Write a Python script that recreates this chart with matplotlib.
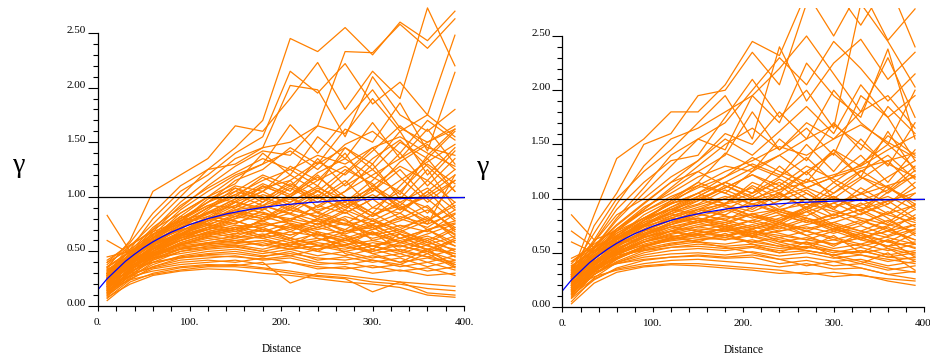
import matplotlib
matplotlib.use('Agg')
import matplotlib.pyplot as plt
from matplotlib.ticker import MultipleLocator, FixedLocator

# lag distances of the simulated variograms
lags = [10, 35, 60, 90, 120, 150, 180, 210, 240, 270, 300, 330, 360, 390]

# fitted exponential model
model_h = [0, 5, 10, 15, 20, 30, 40, 50, 60, 70, 80, 100, 120, 140, 160, 180,
           200, 230, 260, 300, 350, 400]
model_gamma = [0.15, 0.20, 0.25, 0.29, 0.33, 0.41, 0.475, 0.535, 0.588, 0.634,
               0.676, 0.745, 0.80, 0.843, 0.876, 0.903, 0.924, 0.947, 0.963,
               0.977, 0.988, 0.993]

sill = 1.0

xticks = [0, 100, 200, 300, 400]
xtick_labels = ['0.', '100.', '200.', '300.', '400.']
yticks = [0.0, 0.5, 1.0, 1.5, 2.0, 2.5]
ytick_labels = ['0.00', '0.50', '1.00', '1.50', '2.00', '2.50']

left_gamma = [
    [0.30, 0.55, 0.75, 1.00, 1.25, 1.45, 1.70, 2.45, 2.33, 2.55, 2.30, 2.60, 2.43, 2.70],
    [0.28, 0.52, 0.80, 1.05, 1.20, 1.40, 1.55, 2.15, 1.95, 2.22, 1.85, 2.05, 1.75, 2.48],
    [0.35, 0.60, 1.05, 1.20, 1.35, 1.65, 1.60, 1.90, 2.23, 1.80, 2.15, 1.90, 2.73, 2.20],
    [0.25, 0.48, 0.70, 0.95, 1.15, 1.35, 1.45, 2.02, 1.98, 1.55, 2.10, 1.75, 1.60, 1.80],
    [0.32, 0.50, 0.72, 0.90, 1.10, 1.28, 1.42, 1.38, 1.65, 2.33, 2.32, 2.58, 2.36, 2.63],
    [0.22, 0.45, 0.65, 0.88, 1.05, 1.20, 1.30, 1.66, 1.40, 1.70, 1.98, 1.63, 1.50, 1.65],
    [0.40, 0.58, 0.85, 1.10, 1.25, 1.30, 1.45, 1.50, 1.65, 1.58, 1.90, 1.60, 1.75, 1.55],
    [0.20, 0.40, 0.60, 0.80, 0.95, 1.15, 1.25, 1.45, 1.30, 1.62, 1.50, 1.86, 1.42, 2.14],
    [0.83, 0.50, 0.62, 0.85, 1.00, 1.12, 1.40, 1.20, 1.55, 1.35, 1.68, 1.35, 1.62, 1.30],
    [0.27, 0.46, 0.68, 0.92, 1.08, 1.22, 1.35, 1.25, 1.10, 1.45, 1.30, 1.60, 1.20, 1.45],
    [0.30, 0.44, 0.60, 0.78, 0.95, 1.10, 1.05, 1.28, 1.15, 1.40, 1.05, 1.32, 1.48, 1.25],
    [0.18, 0.38, 0.55, 0.75, 0.90, 1.00, 1.18, 1.05, 1.35, 1.10, 1.25, 1.02, 1.38, 1.62],
    [0.24, 0.42, 0.58, 0.70, 0.88, 1.05, 0.98, 1.12, 1.00, 1.22, 1.45, 1.18, 0.95, 1.15],
    [0.60, 0.48, 0.62, 0.80, 0.92, 0.90, 1.10, 1.00, 1.20, 0.95, 1.15, 1.40, 1.10, 1.35],
    [0.26, 0.40, 0.55, 0.72, 0.85, 0.98, 1.08, 1.15, 0.90, 1.05, 1.30, 0.98, 1.25, 0.90],
    [0.15, 0.35, 0.52, 0.68, 0.80, 0.95, 0.88, 1.02, 1.18, 1.00, 0.85, 1.10, 1.35, 1.05],
    [0.33, 0.47, 0.63, 0.77, 0.98, 1.08, 1.00, 0.90, 1.05, 1.25, 1.12, 0.88, 1.02, 1.20],
    [0.21, 0.39, 0.54, 0.66, 0.78, 0.90, 1.02, 0.95, 1.10, 0.92, 1.05, 1.25, 0.98, 0.78],
    [0.29, 0.43, 0.57, 0.74, 0.86, 0.82, 0.95, 1.10, 0.98, 1.15, 0.90, 1.05, 0.85, 1.10],
    [0.12, 0.32, 0.50, 0.65, 0.76, 0.88, 0.92, 0.85, 1.00, 0.88, 1.08, 0.92, 1.15, 0.95],
    [0.25, 0.41, 0.58, 0.70, 0.75, 0.82, 0.90, 0.98, 0.88, 0.95, 0.82, 1.00, 0.90, 0.70],
    [0.19, 0.37, 0.53, 0.64, 0.72, 0.80, 0.86, 0.78, 0.92, 0.85, 0.98, 0.80, 0.72, 0.88],
    [0.36, 0.49, 0.60, 0.69, 0.78, 0.85, 0.80, 0.88, 0.82, 0.75, 0.90, 0.85, 1.05, 0.80],
    [0.23, 0.40, 0.50, 0.62, 0.70, 0.76, 0.84, 0.80, 0.75, 0.88, 0.78, 0.70, 0.82, 0.62],
    [0.31, 0.45, 0.56, 0.66, 0.74, 0.70, 0.78, 0.85, 0.78, 0.70, 0.84, 0.92, 0.75, 0.85],
    [0.17, 0.33, 0.48, 0.60, 0.68, 0.74, 0.72, 0.80, 0.86, 0.78, 0.70, 0.78, 0.88, 0.72],
    [0.28, 0.42, 0.52, 0.63, 0.66, 0.72, 0.76, 0.70, 0.80, 0.74, 0.80, 0.68, 0.78, 0.95],
    [0.14, 0.30, 0.46, 0.58, 0.65, 0.70, 0.74, 0.78, 0.72, 0.82, 0.75, 0.85, 0.70, 0.76],
    [0.45, 0.50, 0.58, 0.65, 0.72, 0.68, 0.75, 0.72, 0.78, 0.68, 0.72, 0.80, 0.92, 0.68],
    [0.22, 0.38, 0.50, 0.60, 0.67, 0.72, 0.68, 0.76, 0.70, 0.76, 0.66, 0.74, 0.68, 0.84],
    [0.20, 0.36, 0.47, 0.57, 0.63, 0.66, 0.70, 0.65, 0.72, 0.66, 0.74, 0.62, 0.70, 0.58],
    [0.26, 0.39, 0.49, 0.56, 0.60, 0.64, 0.62, 0.68, 0.64, 0.70, 0.62, 0.68, 0.60, 0.72],
    [0.11, 0.28, 0.43, 0.53, 0.58, 0.62, 0.66, 0.60, 0.66, 0.60, 0.68, 0.58, 0.64, 0.55],
    [0.30, 0.40, 0.48, 0.55, 0.58, 0.60, 0.64, 0.58, 0.62, 0.56, 0.60, 0.66, 0.56, 0.64],
    [0.18, 0.33, 0.44, 0.52, 0.57, 0.58, 0.60, 0.56, 0.60, 0.65, 0.55, 0.60, 0.52, 0.48],
    [0.24, 0.37, 0.46, 0.54, 0.56, 0.60, 0.55, 0.62, 0.56, 0.52, 0.58, 0.54, 0.62, 0.50],
    [0.09, 0.26, 0.40, 0.50, 0.55, 0.57, 0.60, 0.54, 0.58, 0.54, 0.50, 0.56, 0.48, 0.60],
    [0.34, 0.42, 0.47, 0.52, 0.54, 0.55, 0.58, 0.52, 0.55, 0.50, 0.55, 0.48, 0.56, 0.45],
    [0.16, 0.31, 0.42, 0.50, 0.53, 0.56, 0.52, 0.58, 0.52, 0.56, 0.48, 0.52, 0.45, 0.52],
    [0.27, 0.36, 0.44, 0.48, 0.52, 0.54, 0.50, 0.55, 0.50, 0.46, 0.52, 0.45, 0.50, 0.42],
    [0.13, 0.27, 0.38, 0.46, 0.50, 0.52, 0.48, 0.52, 0.46, 0.50, 0.44, 0.48, 0.40, 0.46],
    [0.21, 0.32, 0.40, 0.45, 0.48, 0.50, 0.46, 0.48, 0.44, 0.42, 0.46, 0.40, 0.44, 0.38],
    [0.07, 0.24, 0.36, 0.44, 0.47, 0.48, 0.45, 0.50, 0.42, 0.45, 0.40, 0.44, 0.36, 0.42],
    [0.29, 0.35, 0.40, 0.44, 0.46, 0.45, 0.43, 0.46, 0.40, 0.38, 0.42, 0.36, 0.40, 0.33],
    [0.17, 0.28, 0.36, 0.42, 0.44, 0.46, 0.42, 0.44, 0.38, 0.40, 0.35, 0.38, 0.32, 0.36],
    [0.24, 0.30, 0.35, 0.40, 0.42, 0.40, 0.44, 0.40, 0.36, 0.34, 0.37, 0.32, 0.35, 0.28],
    [0.10, 0.25, 0.34, 0.38, 0.40, 0.42, 0.38, 0.40, 0.34, 0.36, 0.30, 0.33, 0.28, 0.30],
    [0.19, 0.27, 0.32, 0.36, 0.38, 0.37, 0.40, 0.21, 0.30, 0.28, 0.25, 0.22, 0.20, 0.18],
    [0.05, 0.22, 0.30, 0.35, 0.37, 0.38, 0.35, 0.32, 0.28, 0.26, 0.22, 0.20, 0.16, 0.14],
    [0.14, 0.24, 0.29, 0.33, 0.36, 0.36, 0.34, 0.30, 0.27, 0.25, 0.13, 0.22, 0.12, 0.10],
    [0.08, 0.20, 0.28, 0.32, 0.34, 0.33, 0.30, 0.28, 0.25, 0.22, 0.20, 0.17, 0.10, 0.08],
    [0.38, 0.55, 0.70, 0.85, 1.00, 0.95, 0.90, 0.75, 0.65, 0.60, 0.55, 0.50, 0.45, 0.40],
    [0.22, 0.44, 0.62, 0.82, 0.75, 0.70, 0.62, 0.55, 0.68, 0.48, 0.42, 0.38, 0.48, 0.35],
    [0.30, 0.48, 0.66, 0.75, 0.82, 0.78, 0.70, 0.65, 0.72, 0.80, 0.60, 0.55, 0.50, 0.62],
    [0.15, 0.35, 0.50, 0.62, 0.70, 0.80, 0.92, 1.00, 0.85, 0.75, 0.65, 0.70, 0.58, 0.52],
    [0.26, 0.40, 0.52, 0.68, 0.82, 0.95, 1.05, 0.92, 0.80, 0.68, 0.75, 0.62, 0.55, 0.48],
    [0.20, 0.36, 0.48, 0.60, 0.72, 0.66, 0.80, 0.95, 1.08, 0.98, 0.85, 0.72, 0.80, 0.66],
    [0.33, 0.46, 0.56, 0.64, 0.70, 0.78, 0.70, 0.62, 0.55, 0.62, 0.70, 0.82, 0.75, 1.20],
    [0.12, 0.30, 0.45, 0.56, 0.62, 0.58, 0.65, 0.72, 0.66, 0.58, 0.50, 0.58, 0.66, 0.75],
    [0.42, 0.56, 0.68, 0.78, 0.85, 0.92, 0.85, 0.78, 0.92, 1.05, 1.20, 1.35, 1.50, 1.62],
    [0.25, 0.43, 0.60, 0.76, 0.90, 1.02, 1.15, 1.25, 1.38, 1.30, 1.45, 1.55, 1.40, 1.28],
    [0.18, 0.34, 0.46, 0.56, 0.64, 0.60, 0.56, 0.52, 0.60, 0.68, 0.78, 0.90, 1.00, 1.15],
    [0.28, 0.44, 0.58, 0.72, 0.80, 0.88, 0.82, 0.75, 0.68, 0.62, 0.55, 0.62, 0.70, 0.78],
    [0.10, 0.28, 0.42, 0.52, 0.58, 0.55, 0.50, 0.46, 0.52, 0.60, 0.66, 0.58, 0.52, 0.60],
    [0.30, 0.46, 0.62, 0.80, 0.95, 1.05, 1.20, 1.10, 1.30, 1.45, 1.25, 1.50, 1.35, 1.60],
    [0.22, 0.42, 0.58, 0.74, 0.90, 1.08, 0.95, 1.15, 1.32, 1.20, 1.42, 1.65, 1.45, 1.38],
    [0.35, 0.50, 0.64, 0.82, 1.00, 1.18, 1.30, 1.42, 1.25, 1.48, 1.60, 1.40, 1.70, 1.52],
    [0.18, 0.38, 0.52, 0.66, 0.80, 0.92, 1.05, 1.20, 1.05, 0.92, 1.10, 1.28, 1.15, 1.42],
    [0.28, 0.44, 0.60, 0.72, 0.86, 0.98, 1.12, 1.02, 1.22, 1.35, 1.18, 1.05, 1.30, 1.12],
    [0.40, 0.52, 0.66, 0.78, 0.92, 1.02, 0.92, 1.08, 0.95, 1.12, 1.35, 1.52, 1.28, 1.05],
    [0.20, 0.36, 0.50, 0.64, 0.78, 0.88, 0.98, 0.88, 1.02, 0.85, 0.98, 1.15, 1.32, 1.48],
    [0.26, 0.42, 0.56, 0.68, 0.80, 0.75, 0.88, 1.00, 1.15, 1.28, 1.10, 0.95, 1.08, 0.88],
    [0.14, 0.32, 0.48, 0.62, 0.72, 0.82, 0.78, 0.90, 0.82, 0.96, 1.08, 0.90, 0.78, 0.92],
    [0.32, 0.45, 0.56, 0.66, 0.74, 0.84, 0.92, 0.84, 0.74, 0.86, 0.72, 0.58, 0.70, 0.55],
    [0.24, 0.40, 0.54, 0.64, 0.70, 0.64, 0.72, 0.62, 0.76, 0.64, 0.52, 0.66, 0.50, 0.38],
    [0.16, 0.34, 0.47, 0.58, 0.66, 0.72, 0.64, 0.74, 0.62, 0.55, 0.68, 0.50, 0.60, 0.45],
    [0.30, 0.42, 0.52, 0.60, 0.68, 0.62, 0.70, 0.60, 0.50, 0.62, 0.48, 0.40, 0.52, 0.36],
    [0.12, 0.30, 0.44, 0.56, 0.64, 0.70, 0.78, 0.68, 0.80, 0.92, 0.78, 0.66, 0.58, 0.70],
    [0.36, 0.50, 0.62, 0.74, 0.84, 0.96, 1.10, 1.00, 0.86, 0.98, 0.82, 0.95, 0.80, 0.65],
    [0.21, 0.38, 0.52, 0.66, 0.78, 0.86, 0.80, 0.92, 1.06, 0.90, 1.02, 0.88, 1.05, 1.25],
]

right_gamma = [
    [0.30, 0.85, 1.37, 1.55, 1.80, 1.80, 2.05, 2.45, 2.32, 2.90, 2.50, 2.95, 2.46, 2.75],
    [0.25, 0.75, 1.05, 1.50, 1.60, 1.95, 2.00, 2.35, 2.05, 2.80, 2.95, 2.60, 3.00, 2.40],
    [0.35, 0.68, 1.00, 1.25, 1.45, 1.70, 1.95, 1.55, 2.40, 1.90, 2.25, 2.47, 2.10, 2.35],
    [0.28, 0.60, 0.90, 1.15, 1.35, 1.40, 1.75, 2.10, 1.75, 2.00, 1.65, 2.80, 2.45, 2.03],
    [0.22, 0.55, 0.80, 1.05, 1.30, 1.55, 1.45, 1.95, 1.70, 2.25, 1.95, 1.75, 2.38, 1.55],
    [0.40, 0.60, 0.85, 1.00, 1.20, 1.35, 1.60, 1.50, 1.80, 1.55, 2.00, 1.70, 1.50, 2.00],
    [0.70, 0.55, 0.75, 0.95, 1.15, 1.25, 1.40, 1.80, 1.45, 1.65, 1.40, 1.95, 1.75, 1.35],
    [0.26, 0.50, 0.72, 0.92, 1.05, 1.20, 1.30, 1.25, 1.55, 1.35, 1.70, 1.45, 1.85, 1.60],
    [0.33, 0.52, 0.70, 0.88, 1.00, 1.15, 1.42, 1.30, 1.20, 1.50, 1.25, 1.55, 1.30, 1.70],
    [0.20, 0.45, 0.65, 0.85, 0.98, 1.10, 1.20, 1.38, 1.25, 1.15, 1.45, 1.20, 1.62, 1.25],
    [0.85, 0.62, 0.70, 0.82, 0.95, 1.05, 1.15, 1.05, 1.30, 1.10, 1.20, 1.40, 1.15, 1.45],
    [0.30, 0.48, 0.63, 0.80, 0.90, 1.02, 0.95, 1.15, 1.05, 1.25, 1.00, 1.18, 1.35, 1.10],
    [0.18, 0.40, 0.60, 0.76, 0.88, 0.95, 1.08, 0.98, 1.12, 0.95, 1.15, 0.98, 1.08, 1.30],
    [0.27, 0.45, 0.60, 0.72, 0.84, 0.92, 1.00, 1.10, 0.92, 1.05, 0.90, 1.10, 0.95, 1.15],
    [0.60, 0.50, 0.62, 0.74, 0.82, 0.90, 0.85, 0.98, 1.05, 0.90, 1.02, 0.88, 1.12, 0.92],
    [0.24, 0.42, 0.56, 0.70, 0.80, 0.86, 0.94, 0.88, 0.98, 1.08, 0.92, 1.00, 0.86, 1.05],
    [0.15, 0.36, 0.52, 0.66, 0.76, 0.84, 0.90, 0.82, 0.90, 0.84, 0.96, 0.85, 0.98, 0.82],
    [0.31, 0.46, 0.58, 0.68, 0.78, 0.82, 0.78, 0.86, 0.80, 0.92, 0.82, 0.90, 0.78, 0.95],
    [0.21, 0.39, 0.53, 0.64, 0.72, 0.78, 0.84, 0.78, 0.85, 0.78, 0.86, 0.76, 0.88, 0.74],
    [0.12, 0.34, 0.50, 0.62, 0.70, 0.76, 0.74, 0.80, 0.74, 0.82, 0.72, 0.80, 0.70, 0.85],
    [0.36, 0.47, 0.57, 0.65, 0.70, 0.74, 0.78, 0.72, 0.78, 0.70, 0.78, 0.70, 0.80, 0.68],
    [0.19, 0.37, 0.49, 0.60, 0.67, 0.72, 0.70, 0.76, 0.70, 0.74, 0.68, 0.75, 0.66, 0.76],
    [0.26, 0.40, 0.51, 0.60, 0.65, 0.68, 0.72, 0.68, 0.74, 0.66, 0.72, 0.64, 0.70, 0.62],
    [0.09, 0.30, 0.45, 0.56, 0.63, 0.67, 0.66, 0.70, 0.64, 0.70, 0.62, 0.68, 0.60, 0.72],
    [0.29, 0.41, 0.50, 0.57, 0.61, 0.64, 0.62, 0.66, 0.60, 0.64, 0.58, 0.64, 0.56, 0.60],
    [0.16, 0.33, 0.45, 0.54, 0.59, 0.62, 0.64, 0.60, 0.64, 0.58, 0.62, 0.56, 0.62, 0.54],
    [0.23, 0.36, 0.46, 0.53, 0.57, 0.60, 0.58, 0.62, 0.56, 0.60, 0.54, 0.58, 0.52, 0.58],
    [0.05, 0.27, 0.41, 0.50, 0.55, 0.58, 0.56, 0.58, 0.54, 0.56, 0.50, 0.55, 0.48, 0.52],
    [0.34, 0.42, 0.48, 0.52, 0.55, 0.56, 0.54, 0.56, 0.52, 0.55, 0.52, 0.50, 0.54, 0.48],
    [0.14, 0.30, 0.41, 0.48, 0.52, 0.54, 0.52, 0.55, 0.50, 0.52, 0.48, 0.52, 0.46, 0.50],
    [0.20, 0.32, 0.40, 0.46, 0.49, 0.50, 0.48, 0.51, 0.47, 0.50, 0.45, 0.48, 0.42, 0.46],
    [0.08, 0.25, 0.36, 0.43, 0.46, 0.48, 0.46, 0.48, 0.44, 0.46, 0.42, 0.44, 0.38, 0.42],
    [0.27, 0.35, 0.40, 0.44, 0.46, 0.47, 0.45, 0.46, 0.40, 0.43, 0.38, 0.40, 0.34, 0.38],
    [0.11, 0.26, 0.35, 0.40, 0.43, 0.44, 0.42, 0.40, 0.37, 0.40, 0.35, 0.36, 0.30, 0.33],
    [0.17, 0.28, 0.34, 0.38, 0.40, 0.40, 0.38, 0.36, 0.34, 0.30, 0.32, 0.29, 0.26, 0.24],
    [0.03, 0.22, 0.32, 0.37, 0.39, 0.38, 0.36, 0.34, 0.31, 0.32, 0.28, 0.30, 0.24, 0.20],
    [0.42, 0.58, 0.72, 0.88, 1.02, 1.12, 1.05, 0.95, 0.88, 0.80, 0.72, 0.66, 0.60, 0.55],
    [0.25, 0.46, 0.66, 0.82, 0.96, 1.00, 0.92, 0.84, 0.78, 0.72, 0.78, 0.86, 0.95, 1.10],
    [0.18, 0.38, 0.55, 0.70, 0.80, 0.88, 0.96, 1.05, 1.15, 1.00, 0.90, 0.80, 0.72, 0.62],
    [0.30, 0.50, 0.68, 0.82, 0.90, 0.86, 0.80, 0.74, 0.82, 0.92, 1.05, 1.20, 1.10, 0.98],
    [0.12, 0.32, 0.48, 0.60, 0.68, 0.74, 0.70, 0.65, 0.58, 0.52, 0.48, 0.42, 0.36, 0.32],
    [0.22, 0.40, 0.54, 0.66, 0.74, 0.80, 0.88, 0.95, 1.02, 1.10, 1.20, 1.28, 1.35, 1.42],
    [0.38, 0.52, 0.64, 0.74, 0.82, 0.78, 0.72, 0.80, 0.88, 0.82, 0.74, 0.68, 0.75, 0.82],
    [0.15, 0.34, 0.48, 0.58, 0.64, 0.60, 0.55, 0.50, 0.44, 0.38, 0.42, 0.36, 0.30, 0.26],
    [0.28, 0.46, 0.60, 0.75, 0.88, 1.00, 1.10, 1.22, 1.12, 1.30, 1.18, 1.05, 0.92, 0.80],
    [0.20, 0.36, 0.50, 0.62, 0.70, 0.66, 0.62, 0.68, 0.76, 0.70, 0.64, 0.58, 0.65, 0.72],
    [0.32, 0.50, 0.64, 0.78, 0.86, 0.94, 1.02, 0.95, 0.86, 0.78, 0.85, 0.94, 1.02, 0.90],
    [0.10, 0.30, 0.44, 0.55, 0.62, 0.68, 0.72, 0.66, 0.70, 0.76, 0.82, 0.90, 0.98, 1.05],
    [0.24, 0.42, 0.58, 0.70, 0.76, 0.82, 0.76, 0.70, 0.66, 0.62, 0.58, 0.64, 0.70, 0.76],
    [0.45, 0.55, 0.66, 0.76, 0.84, 0.90, 0.95, 1.00, 1.08, 1.15, 1.22, 1.30, 1.45, 1.58],
    [0.26, 0.44, 0.62, 0.80, 0.96, 1.12, 1.25, 1.35, 1.48, 1.40, 1.55, 1.68, 1.52, 1.38],
    [0.16, 0.35, 0.50, 0.64, 0.74, 0.70, 0.66, 0.72, 0.80, 0.88, 0.96, 1.04, 1.12, 1.20],
    [0.34, 0.54, 0.72, 0.90, 1.08, 1.25, 1.12, 1.00, 0.90, 0.82, 0.76, 0.70, 0.64, 0.58],
    [0.20, 0.40, 0.56, 0.70, 0.82, 0.90, 0.84, 0.78, 0.72, 0.80, 0.70, 0.62, 0.56, 0.50],
    [0.30, 0.45, 0.57, 0.67, 0.74, 0.78, 0.82, 0.86, 0.90, 0.95, 0.88, 0.82, 0.76, 0.70],
    [0.13, 0.30, 0.42, 0.52, 0.58, 0.62, 0.66, 0.60, 0.56, 0.52, 0.48, 0.52, 0.46, 0.44],
    [0.37, 0.52, 0.66, 0.80, 0.92, 1.02, 1.15, 1.28, 1.40, 1.55, 1.68, 1.50, 1.32, 1.20],
    [0.24, 0.44, 0.62, 0.78, 0.92, 1.05, 1.20, 1.32, 1.22, 1.10, 1.00, 0.92, 0.85, 0.78],
    [0.18, 0.34, 0.46, 0.56, 0.62, 0.66, 0.70, 0.74, 0.68, 0.62, 0.70, 0.78, 0.86, 0.94],
    [0.29, 0.48, 0.64, 0.76, 0.86, 0.80, 0.74, 0.68, 0.62, 0.58, 0.52, 0.48, 0.44, 0.40],
    [0.30, 0.50, 0.70, 0.90, 1.10, 1.30, 1.50, 1.65, 1.45, 1.70, 1.55, 1.80, 1.95, 1.65],
    [0.24, 0.44, 0.62, 0.80, 0.98, 1.15, 1.05, 1.25, 1.40, 1.22, 1.45, 1.30, 1.58, 1.40],
    [0.36, 0.56, 0.76, 0.96, 1.15, 1.35, 1.55, 1.40, 1.62, 1.85, 1.60, 2.05, 1.75, 1.95],
    [0.20, 0.40, 0.58, 0.74, 0.88, 1.02, 1.15, 1.05, 1.20, 1.38, 1.15, 1.32, 1.50, 1.28],
    [0.28, 0.46, 0.62, 0.76, 0.90, 0.98, 1.10, 1.22, 1.08, 1.25, 1.42, 1.20, 1.05, 1.22],
    [0.42, 0.54, 0.68, 0.82, 0.95, 1.05, 0.95, 1.12, 1.00, 1.18, 1.05, 1.25, 1.40, 1.18],
    [0.18, 0.36, 0.52, 0.66, 0.78, 0.90, 1.00, 0.90, 1.04, 0.92, 1.10, 1.26, 1.10, 0.95],
    [0.26, 0.42, 0.56, 0.70, 0.82, 0.78, 0.90, 1.02, 1.18, 1.05, 0.92, 1.05, 1.20, 1.35],
    [0.14, 0.32, 0.48, 0.60, 0.70, 0.80, 0.76, 0.86, 0.78, 0.92, 1.02, 0.88, 0.76, 0.90],
    [0.32, 0.46, 0.58, 0.68, 0.76, 0.86, 0.94, 0.84, 0.76, 0.88, 0.74, 0.62, 0.74, 0.58],
    [0.22, 0.40, 0.54, 0.64, 0.70, 0.64, 0.74, 0.64, 0.78, 0.66, 0.56, 0.68, 0.54, 0.42],
    [0.16, 0.34, 0.46, 0.56, 0.64, 0.70, 0.64, 0.72, 0.60, 0.54, 0.66, 0.50, 0.62, 0.46],
    [0.30, 0.42, 0.52, 0.60, 0.66, 0.60, 0.68, 0.58, 0.50, 0.60, 0.46, 0.40, 0.50, 0.34],
    [0.12, 0.30, 0.44, 0.56, 0.64, 0.70, 0.76, 0.66, 0.78, 0.90, 0.76, 0.64, 0.56, 0.68],
    [0.38, 0.52, 0.64, 0.76, 0.86, 0.98, 1.12, 1.02, 0.88, 1.00, 0.84, 0.96, 0.82, 0.66],
    [0.21, 0.38, 0.52, 0.66, 0.78, 0.86, 0.80, 0.92, 1.06, 0.90, 1.02, 0.88, 1.06, 1.26],
    [0.28, 0.55, 0.82, 1.10, 1.40, 1.55, 1.70, 2.00, 2.30, 2.05, 2.45, 2.20, 1.90, 2.15],
    [0.34, 0.62, 0.95, 1.30, 1.55, 1.65, 1.80, 1.95, 2.20, 2.50, 2.15, 1.80, 2.30, 1.75],
]

plt.rcParams['font.family'] = ['Liberation Serif', 'DejaVu Serif']

fig = plt.figure(figsize=(9.3, 3.56), dpi=100)
ax_left = fig.add_axes([0.1054, 0.1404, 0.3946, 0.8466])
ax_right = fig.add_axes([0.6048, 0.1376, 0.3898, 0.8404])


def draw_panel(ax, runs):
    for run in runs:
        ax.plot(lags, run, color='#ff8000', lw=0.9)
    ax.axhline(sill, color='black', lw=0.9)
    ax.plot(model_h, model_gamma, color='#0000ff', lw=0.9)

    ax.set_xlim(0, 401)
    ax.set_ylim(0, 2.76)
    for side in ['top', 'right']:
        ax.spines[side].set_visible(False)
    ax.spines['left'].set_bounds(0, 2.5)
    ax.spines['bottom'].set_bounds(0, 400)
    ax.spines['left'].set_linewidth(0.9)
    ax.spines['bottom'].set_linewidth(0.9)

    ax.set_xticks(xticks)
    ax.set_xticklabels(xtick_labels)
    ax.xaxis.set_minor_locator(MultipleLocator(20))
    ax.set_yticks(yticks)
    ax.set_yticklabels(ytick_labels, va='baseline')
    ax.yaxis.set_minor_locator(FixedLocator([v / 10 for v in range(26)]))

    ax.tick_params(axis='x', which='both', length=3.5, width=0.8, pad=5,
                   labelsize=8)
    ax.tick_params(axis='y', which='major', length=7.5, width=0.8, pad=1,
                   labelsize=8)
    ax.tick_params(axis='y', which='minor', length=3.5, width=0.8)

    ax.set_xlabel('Distance', fontsize=8.3, labelpad=12)
    ax.set_ylabel('γ', fontsize=20, rotation=0, labelpad=0)


draw_panel(ax_left, left_gamma)
draw_panel(ax_right, right_gamma)

ax_left.yaxis.set_label_coords(-0.215, 0.425)
ax_right.yaxis.set_label_coords(-0.22, 0.425)

plt.savefig('out.png', dpi=100)
